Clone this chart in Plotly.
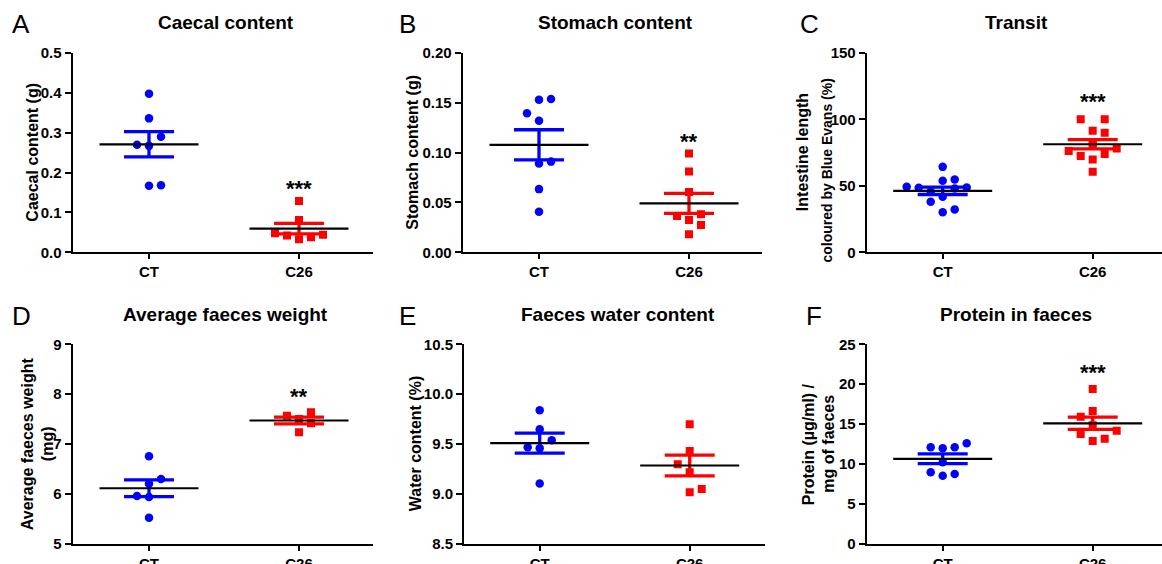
import numpy as np
import plotly.graph_objects as go

W, H = 1162, 564
groups = ["CT", "C26"]

# ---------------- data ----------------
caecal_ct = [0.398, 0.336, 0.290, 0.270, 0.267, 0.167, 0.168]
caecal_c26 = [0.129, 0.081, 0.048, 0.042, 0.033, 0.038, 0.044]

stomach_ct = [0.1532, 0.1538, 0.1395, 0.132, 0.089, 0.091, 0.0634, 0.0407]
stomach_c26 = [0.0992, 0.0811, 0.0604, 0.0364, 0.0381, 0.0324, 0.0274, 0.018]

transit_ct = [64.3, 53.8, 54.8, 49.3, 48.5, 45.7, 48.1, 48.8, 38.0, 41.8, 30.1, 32.3]
transit_c26 = [100.2, 100.2, 91.4, 89.9, 76.3, 72.4, 69.9, 73.9, 78.1, 60.6, 82.5, 80.5]

faeces_w_ct = [6.756, 6.302, 6.209, 5.962, 5.942, 5.528]
faeces_w_c26 = [7.570, 7.504, 7.638, 7.418, 7.238]

water_ct = [9.839, 9.649, 9.539, 9.469, 9.459, 9.105]
water_c26 = [9.699, 9.432, 9.298, 9.218, 9.051, 9.018]

protein_ct = [12.11, 11.98, 12.11, 12.61, 10.23, 8.98, 8.55, 8.76]
protein_c26 = [19.40, 16.65, 15.94, 14.87, 14.18, 13.77, 13.18, 12.89]

panel_letters = ["A", "B", "C", "D", "E", "F"]
panel_titles = ["Caecal content", "Stomach content", "Transit",
                "Average faeces weight", "Faeces water content", "Protein in faeces"]
# each y-axis title as a list of lines
y_titles = [["Caecal content (g)"], ["Stomach content (g)"],
            ["Intestine length", "coloured by Blue Evans (%)"],
            ["Average faeces weight", "(mg)"], ["Water content (%)"],
            ["Protein (µg/ml) /", "mg of faeces"]]
significance = ["***", "**", "***", "**", "", "***"]

# ---------------- layout / style ----------------
# horizontal swarm slot of each dot (layout only, in units of one marker step)
slots = {
    "A": ([0, 0, 1, -1, 0, 0, 1], [0, 0, -2, -1, 0, 1, 2]),
    "B": ([0, 1, -1, 0, 0, 1, 0, 0], [0, 0, 0, -1, 1, 0, 1, 0]),
    "C": ([0, 0, 1, -3, -2, -1, 1, 2, -1, 0, 0, 1], [-1, 1, 0, 1, -2, -1, 0, 1, 2, 0, 0, 0]),
    "D": ([0, 1, 0, -1, 0, 0], [-1, 0, 1, 1, 0]),
    "E": ([0, 0, 1, -1, 0, 0], [0, 0, -1, 0, 1, 0]),
    "F": ([-1, 0, 1, 2, 0, -1, 0, 1], [0, 0, -1, 0, 2, -1, 1, 0]),
}
values = {
    "A": (caecal_ct, caecal_c26), "B": (stomach_ct, stomach_c26),
    "C": (transit_ct, transit_c26), "D": (faeces_w_ct, faeces_w_c26),
    "E": (water_ct, water_c26), "F": (protein_ct, protein_c26),
}
# pixel geometry: x axis left, x axis right, centre of first group, y top, y bottom
geom = {
    "A": (72.5, 373, 149, 53, 252.3),
    "B": (462.7, 762, 539, 53, 252.3),
    "C": (866.7, 1162, 942.7, 53, 252.3),
    "D": (72.7, 373, 149, 344.3, 544),
    "E": (464, 765, 539.7, 344.3, 544),
    "F": (866.7, 1162, 942.7, 344.3, 544),
}
yranges = {"A": ([0, 0.5], 0.1, ".1f"), "B": ([0, 0.2], 0.05, ".2f"),
           "C": ([0, 150], 50, "d"), "D": ([5, 9], 1, "d"),
           "E": ([8.5, 10.5], 0.5, ".1f"), "F": ([0, 25], 5, "d")}
# y-title line placement: list of (x centre px, y centre px or None=axis centre, font size)
ytitle_lines = {
    "A": [(33, None, 16)],
    "B": [(413, None, 16)],
    "C": [(802.5, None, 16), (826.5, 171, 14)],
    "D": [(27, None, 16), (47, None, 16)],
    "E": [(415, None, 16)],
    "F": [(808, None, 16), (828.5, None, 16)],
}
title_y = {"A": 23, "B": 23, "C": 23, "D": 315, "E": 315, "F": 315}
letter_x = {"A": 10, "B": 397, "C": 798, "D": 10, "E": 397, "F": 804}
# vertical centre of the significance stars, in data units of each panel
star_y = {"A": 0.167, "B": 0.1134, "C": 115.4, "D": 8.0, "F": 21.8}

PX_PER_UNIT = 150.0
STEP = 12.0 / PX_PER_UNIT
MEAN_HALF = 0.33
SEM_HALF_PX = 25
colors = ["#0000FF", "#FF0000"]
symbols = ["circle", "square"]
FONT = "Liberation Sans, Arial, sans-serif"

fig = go.Figure()
annotations = []
for i, key in enumerate(panel_letters):
    n = i + 1
    xa = "x" if n == 1 else f"x{n}"
    ya = "y" if n == 1 else f"y{n}"
    xl, xr, c0, yt, yb = geom[key]
    for g in range(2):
        v = np.array(values[key][g], dtype=float)
        s = np.array(slots[key][g], dtype=float)
        fig.add_trace(go.Scatter(
            x=g + s * STEP, y=v, mode="markers", xaxis=xa, yaxis=ya,
            marker=dict(symbol=symbols[g], size=8.5 if g == 0 else 8, color=colors[g],
                        line=dict(width=0)),
            showlegend=False, hoverinfo="y"))
    for g in range(2):
        v = np.array(values[key][g], dtype=float)
        m = v.mean()
        sem = v.std(ddof=1) / np.sqrt(len(v))
        fig.add_trace(go.Scatter(
            x=[g], y=[m], mode="markers", xaxis=xa, yaxis=ya,
            marker=dict(size=1, color="rgba(0,0,0,0)"),
            error_y=dict(type="data", array=[sem], symmetric=True, color=colors[g],
                         thickness=3.3, width=SEM_HALF_PX),
            showlegend=False, hoverinfo="skip"))
    for g in range(2):
        v = np.array(values[key][g], dtype=float)
        m = v.mean()
        fig.add_trace(go.Scatter(
            x=[g], y=[m], mode="markers", xaxis=xa, yaxis=ya,
            marker=dict(size=1, color="rgba(0,0,0,0)"),
            error_x=dict(type="data", array=[MEAN_HALF], symmetric=True, color="black",
                         thickness=2.2, width=0),
            showlegend=False, hoverinfo="skip"))

    x_lo = (xl - c0) / PX_PER_UNIT
    x_hi = (xr - c0) / PX_PER_UNIT
    yr, dt, fmt = yranges[key]
    axis_common = dict(showline=True, linewidth=2, linecolor="black", showgrid=False,
                       zeroline=False, ticks="outside", tickwidth=2, tickcolor="black",
                       fixedrange=True, automargin=False,
                       tickfont=dict(family=FONT, size=15, color="black", weight="bold"))
    fig.update_layout(**{
        ("xaxis" if n == 1 else f"xaxis{n}"): dict(
            axis_common, domain=[xl / W, xr / W], range=[x_lo, x_hi],
            tickmode="array", tickvals=[0, 1], ticktext=groups, ticklen=5,
            anchor=ya),
        ("yaxis" if n == 1 else f"yaxis{n}"): dict(
            axis_common, domain=[1 - yb / H, 1 - yt / H], range=yr,
            tickmode="linear", tick0=yr[0], dtick=dt, tickformat=fmt, ticklen=6,
            anchor=xa),
    })
    annotations.append(dict(text=key, x=letter_x[key] / W, y=1 - (title_y[key] + 1) / H,
                            xref="paper", yref="paper", xanchor="left", yanchor="middle",
                            showarrow=False,
                            font=dict(family=FONT, size=26, color="black")))
    annotations.append(dict(text="<b>" + panel_titles[i] + "</b>",
                            x=((xl + min(xr, 1160)) / 2 + 3) / W, y=1 - title_y[key] / H,
                            xref="paper", yref="paper", xanchor="center", yanchor="middle",
                            showarrow=False,
                            font=dict(family=FONT, size=19, color="black")))
    for line, (lx, ly, fs) in zip(y_titles[i], ytitle_lines[key]):
        cy = (yt + yb) / 2 if ly is None else ly
        annotations.append(dict(text="<b>" + line + "</b>", textangle=-90,
                                x=lx / W, y=1 - cy / H,
                                xref="paper", yref="paper", xanchor="center", yanchor="middle",
                                showarrow=False,
                                font=dict(family=FONT, size=fs, color="black")))
    if significance[i]:
        annotations.append(dict(text="<b>" + significance[i] + "</b>", x=1, y=star_y[key],
                                xref=xa, yref=ya, xanchor="center", yanchor="bottom",
                                yshift=-17, showarrow=False,
                                font=dict(family=FONT, size=22, color="black")))

fig.update_layout(width=W, height=H, margin=dict(l=0, r=0, t=0, b=0, autoexpand=False),
                  paper_bgcolor="white", plot_bgcolor="white",
                  annotations=annotations, showlegend=False)
fig.write_html("out.html", config={"displayModeBar": False})

# remove the default page margin so the figure sits at the window's top-left corner
with open("out.html", encoding="utf-8") as fh:
    html = fh.read()
html = html.replace("<head>", "<head><style>html,body{margin:0;padding:0;overflow:hidden}</style>", 1)
with open("out.html", "w", encoding="utf-8") as fh:
    fh.write(html)
